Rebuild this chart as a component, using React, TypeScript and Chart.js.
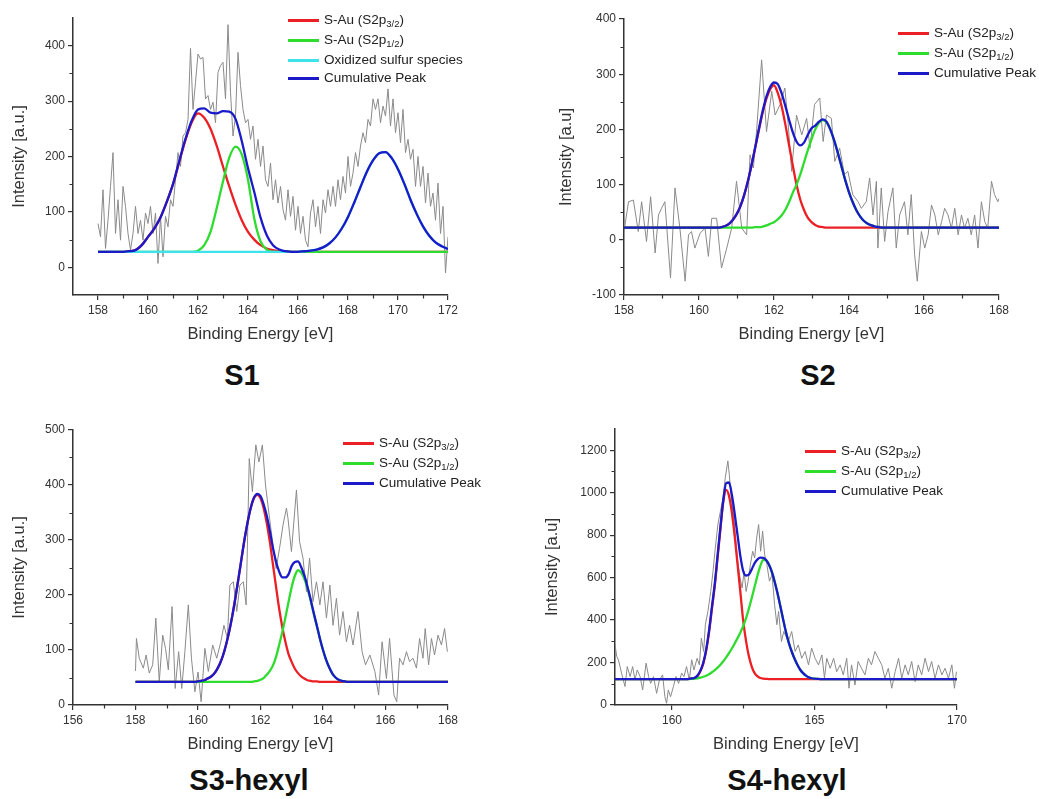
import React, { useEffect, useRef } from "react";
import { Chart, registerables } from "chart.js";

Chart.register(...registerables);

const FONT = "'Liberation Sans', Arial, Helvetica, sans-serif";
const AXIS_COLOR = "#333333";
const TEXT_COLOR = "#333333";
const RED = "#ec1f24";
const GREEN = "#2edc2e";
const CYAN = "#3ee2ea";
const BLUE = "#1a1ac8";
const RAW = "#8a8a8a";

// evenly spaced energy grid (x positions only)
function grid(start: number, step: number, n: number): number[] {
  return Array.from({ length: n }, (_, i) => Math.round((start + i * step) * 1000) / 1000);
}

// ---------------- S1 ----------------
const S1_RAW_X = grid(158, 0.1, 141);
const S1_RAW_Y = [
  79, 55, 140, 34, 85, 146, 207, 61, 122, 49,
  146, 110, 61, 31, 61, 110, 61, 85, 49, 98,
  79, 110, 61, 98, 7, 92, 19, 92, 73, 122,
  110, 158, 207, 182, 237, 243, 267, 395, 285, 334,
  385, 376, 379, 304, 310, 285, 298, 261, 352, 364,
  370, 304, 438, 316, 237, 273, 388, 328, 285, 261,
  267, 231, 255, 195, 231, 182, 219, 158, 146, 188,
  122, 158, 116, 146, 104, 85, 140, 92, 128, 67,
  110, 61, 92, 49, 37, 98, 122, 73, 110, 61,
  122, 98, 140, 110, 146, 110, 158, 122, 164, 134,
  200, 146, 170, 207, 182, 219, 243, 225, 267, 255,
  304, 285, 304, 261, 291, 273, 322, 255, 304, 243,
  279, 225, 285, 207, 231, 195, 213, 146, 200, 146,
  182, 116, 170, 110, 134, 85, 152, 61, 110, -10,
  55,
];
const S1_FIT_X = grid(158, 0.25, 57);
const S1_RED = [
  28, 28, 28, 28, 28, 29, 31, 40, 55, 70, 90, 118, 150, 190, 230, 262,
  278, 270, 250, 219, 182, 146, 113, 85, 64, 50, 40, 34, 31, 29, 29, 28,
  28, 28, 28, 28, 28, 28, 28, 28, 28, 28, 28, 28, 28, 28, 28, 28, 28, 28,
  28, 28, 28, 28, 28, 28, 28,
];
const S1_GREEN = [
  28, 28, 28, 28, 28, 28, 28, 28, 28, 28, 28, 28, 28, 28, 28, 28,
  30, 40, 64, 107, 155, 198, 218, 204, 158, 88, 47, 32, 28, 28, 28, 28,
  28, 28, 28, 28, 28, 28, 28, 28, 28, 28, 28, 28, 28, 28, 28, 28, 28, 28,
  28, 28, 28, 28, 28, 28, 28,
];
const S1_CYAN = [
  28, 28, 28, 28, 28, 28, 28, 28, 28, 28, 28, 28, 28, 28, 28, 28,
  28, 28, 28, 28, 28, 28, 28, 28, 28, 28, 28, 28, 28, 28, 28, 28,
  28, 29, 30, 32, 36, 43, 54, 70, 91, 117, 145, 172, 193, 206, 208, 197,
  177, 151, 122, 96, 74, 57, 45, 38, 33,
];
const S1_BLUE = [
  28, 28, 28, 28, 28, 29, 31, 40, 55, 70, 90, 118, 150, 192, 232, 265,
  285, 287, 279, 278, 282, 281, 268, 228, 179, 136, 90, 58, 40, 32, 29, 28,
  28, 29, 30, 32, 36, 43, 54, 70, 91, 117, 145, 172, 193, 206, 208, 197,
  177, 151, 122, 96, 74, 57, 45, 38, 33,
];
const S1_X_TICKS = [158, 160, 162, 164, 166, 168, 170, 172];
const S1_X_MINOR = [159, 161, 163, 165, 167, 169, 171];
const S1_Y_TICKS = [0, 100, 200, 300, 400];
const S1_Y_MINOR = [50, 150, 250, 350];

// ---------------- S2 ----------------
const S2_RAW_X = [
  158.0, 158.12, 158.25, 158.38, 158.47, 158.6, 158.71, 158.83, 158.92, 159.0,
  159.09, 159.24, 159.36, 159.49, 159.63, 159.72, 159.8, 159.89, 160.03, 160.16,
  160.25, 160.34, 160.47, 160.6, 160.74, 160.87, 161.0, 161.14, 161.27, 161.36,
  161.45, 161.54, 161.67, 161.8, 161.94, 162.03, 162.16, 162.29, 162.38, 162.47,
  162.6, 162.74, 162.87, 162.96, 163.08, 163.22, 163.31, 163.4, 163.53, 163.62,
  163.75, 163.88, 163.97, 164.1, 164.24, 164.33, 164.46, 164.55, 164.64, 164.73,
  164.77, 164.86, 164.95, 165.04, 165.17, 165.26, 165.35, 165.48, 165.57, 165.66,
  165.75, 165.82, 165.93, 166.02, 166.11, 166.2, 166.29, 166.38, 166.47, 166.55,
  166.64, 166.73, 166.82, 166.91, 167.0, 167.08, 167.17, 167.26, 167.35, 167.44,
  167.53, 167.62, 167.7, 167.8, 167.88, 167.97, 168.0,
];
const S2_RAW_Y = [
  15, 69, 72, 15, 69, -3, 78, -24, 45, 57,
  69, -69, 94, 21, -75, 9, 15, -15, 12, 21,
  -30, 39, 39, -51, -15, 21, 106, 21, 9, 154,
  130, 202, 326, 196, 269, 226, 245, 275, 208, 124,
  226, 190, 220, 166, 245, 257, 178, 226, 220, 142,
  166, 118, 124, 82, 69, 57, 69, 112, 45, 106,
  -15, 94, -3, 51, 94, -15, 45, 69, 9, 82,
  -27, -75, 15, -15, 9, 63, 45, 9, 33, 57,
  45, 21, 57, 9, 45, 21, 39, 9, 45, -15,
  69, 33, 21, 106, 82, 69, 75,
];
const S2_FIT_X = [158, ...grid(160.4, 0.1, 47), 168];
const S2_RED = [
  22,
  22, 22, 23, 25, 29, 36, 46, 60, 80, 105,
  135, 167, 200, 231, 256, 273, 280, 266, 243, 210,
  172, 135, 100, 73, 54, 40, 32, 27, 24, 23,
  22, 22, 22, 22, 22, 22, 22, 22, 22, 22,
  22, 22, 22, 22, 22, 22, 22,
  22,
];
const S2_GREEN = [
  22,
  22, 22, 22, 22, 22, 22, 22, 22, 22, 22,
  22, 23, 23, 24, 26, 29, 32, 37, 44, 54,
  68, 85, 100, 118, 140, 162, 182, 200, 212, 217,
  213, 200, 181, 158, 133, 108, 86, 68, 53, 42,
  34, 29, 26, 24, 23, 22, 22,
  22,
];
const S2_BLUE = [
  22,
  22, 22, 23, 25, 29, 36, 46, 60, 80, 105,
  135, 168, 202, 234, 260, 277, 285, 282, 266, 243,
  218, 195, 178, 171, 176, 190, 202, 207, 214, 218,
  214, 200, 181, 158, 133, 108, 86, 68, 53, 42,
  34, 29, 26, 24, 23, 22, 22,
  22,
];
const S2_X_TICKS = [158, 160, 162, 164, 166, 168];
const S2_X_MINOR = [159, 161, 163, 165, 167];
const S2_Y_TICKS = [-100, 0, 100, 200, 300, 400];
const S2_Y_MINOR = [-50, 50, 150, 250, 350];

// ---------------- S3-hexyl ----------------
const S3_RAW_X = [
  158.0, 158.03, 158.12, 158.25, 158.34, 158.44, 158.55, 158.65, 158.76, 158.87,
  158.96, 159.05, 159.17, 159.27, 159.38, 159.48, 159.58, 159.69, 159.79, 159.9,
  160.0, 160.1, 160.22, 160.33, 160.47, 160.6, 160.73, 160.83, 160.94, 161.02,
  161.13, 161.24, 161.34, 161.45, 161.54, 161.64, 161.74, 161.85, 161.95, 162.06,
  162.16, 162.29, 162.4, 162.5, 162.61, 162.72, 162.83, 162.88, 162.99, 163.15,
  163.25, 163.36, 163.47, 163.57, 163.68, 163.79, 163.9, 164.0, 164.11, 164.22,
  164.32, 164.43, 164.53, 164.64, 164.75, 164.85, 164.96, 165.12, 165.25, 165.36,
  165.5, 165.66, 165.78, 165.89, 166.03, 166.13, 166.27, 166.36, 166.45, 166.56,
  166.67, 166.77, 166.88, 166.99, 167.09, 167.2, 167.27, 167.38, 167.47, 167.57,
  167.68, 167.79, 167.89, 167.98,
];
const S3_RAW_Y = [
  62, 121, 85, 67, 91, 58, 73, 158, 42, 127,
  103, 64, 179, 30, 97, 30, 97, 182, 85, 24,
  60, 6, 103, 61, 109, 85, 115, 145, 121, 218,
  224, 170, 218, 224, 182, 448, 388, 473, 442, 473,
  400, 339, 291, 248, 285, 327, 358, 339, 279, 391,
  297, 267, 206, 267, 188, 224, 182, 224, 158, 218,
  145, 194, 127, 170, 115, 145, 109, 170, 97, 73,
  91, 61, 18, 115, 48, 121, 18, 6, 85, 73,
  97, 79, 85, 67, 121, 85, 139, 73, 121, 91,
  127, 109, 139, 97,
];
const S3_FIT_X = [158, ...grid(159.8, 0.1, 53), 168];
const S3_RED = [
  42,
  42, 42, 43, 44, 45, 48, 51, 56, 64, 75,
  90, 110, 134, 163, 196, 232, 269, 305, 336, 361,
  377, 382, 376, 358, 331, 296, 255, 214, 174, 141,
  114, 92, 78, 66, 58, 52, 48, 45, 44, 43,
  43, 42, 42, 42, 42, 42, 42, 42, 42, 42,
  42, 42, 42,
  42,
];
const S3_GREEN = [
  42,
  42, 42, 42, 42, 42, 42, 42, 42, 42, 42,
  42, 42, 42, 42, 42, 42, 42, 42, 42, 42,
  43, 44, 46, 49, 55, 62, 72, 88, 110, 133,
  160, 188, 215, 235, 245, 241, 230, 213, 191, 167,
  144, 121, 100, 82, 68, 57, 50, 46, 44, 43,
  42, 42, 42,
  42,
];
const S3_BLUE = [
  42,
  42, 42, 43, 44, 45, 48, 51, 56, 64, 75,
  90, 110, 134, 163, 196, 232, 269, 305, 336, 361,
  378, 384, 380, 365, 344, 316, 285, 260, 242, 232,
  232, 238, 253, 260, 261, 251, 236, 216, 193, 168,
  145, 121, 100, 82, 68, 57, 50, 46, 44, 43,
  42, 42, 42,
  42,
];
const S3_X_TICKS = [156, 158, 160, 162, 164, 166, 168];
const S3_X_MINOR = [157, 159, 161, 163, 165, 167];
const S3_Y_TICKS = [0, 100, 200, 300, 400, 500];
const S3_Y_MINOR = [50, 150, 250, 350, 450];

// ---------------- S4-hexyl ----------------
const S4_RAW_X = [
  158.0, 158.06, 158.12, 158.23, 158.35, 158.43, 158.53, 158.62, 158.7, 158.78,
  158.88, 158.97, 159.09, 159.18, 159.25, 159.35, 159.46, 159.56, 159.67, 159.75,
  159.81, 159.87, 159.95, 160.05, 160.14, 160.23, 160.34, 160.42, 160.51, 160.61,
  160.69, 160.77, 160.88, 160.96, 161.03, 161.11, 161.17, 161.26, 161.36, 161.44,
  161.52, 161.61, 161.7, 161.79, 161.87, 161.96, 162.01, 162.08, 162.18, 162.25,
  162.32, 162.39, 162.46, 162.53, 162.6, 162.67, 162.75, 162.83, 162.9, 162.97,
  163.04, 163.11, 163.18, 163.25, 163.33, 163.42, 163.51, 163.6, 163.68, 163.74,
  163.84, 163.92, 164.08, 164.2, 164.32, 164.43, 164.55, 164.67, 164.79, 164.9,
  165.02, 165.14, 165.26, 165.35, 165.43, 165.55, 165.67, 165.78, 165.9, 166.01,
  166.13, 166.21, 166.3, 166.42, 166.53, 166.65, 166.77, 166.89, 167.0, 167.12,
  167.24, 167.36, 167.47, 167.59, 167.71, 167.83, 167.95, 168.06, 168.18, 168.29,
  168.41, 168.53, 168.64, 168.76, 168.88, 169.0, 169.11, 169.23, 169.35, 169.47,
  169.58, 169.7, 169.82, 169.91, 169.98,
];
const S4_RAW_Y = [
  283, 230, 213, 150, 87, 181, 134, 181, 118, 165,
  134, 71, 197, 134, 102, 134, 55, 118, 142, 39,
  8, 71, 39, 87, 134, 102, 150, 134, 181, 118,
  213, 165, 220, 189, 315, 252, 378, 441, 535, 630,
  740, 850, 913, 976, 1071, 1150, 1087, 976, 866, 756,
  661, 598, 551, 630, 535, 583, 661, 724, 693, 787,
  850, 724, 819, 709, 661, 583, 614, 472, 378, 441,
  299, 346, 299, 346, 252, 283, 220, 252, 189, 268,
  220, 189, 236, 126, 220, 173, 220, 157, 189, 142,
  220, 79, 189, 94, 205, 173, 142, 220, 189, 252,
  220, 189, 126, 173, 79, 157, 220, 126, 189, 142,
  205, 110, 189, 142, 220, 157, 205, 126, 189, 142,
  173, 126, 189, 79, 157,
];
const S4_FIT_X = [158, ...grid(160.5, 0.1, 51), 170];
const S4_RED = [
  122,
  122, 123, 125, 128, 137, 160, 196, 256, 343, 452,
  560, 695, 830, 958, 1013, 985, 908, 795, 663, 530,
  395, 300, 228, 180, 150, 135, 127, 124, 123, 122,
  122, 122, 122, 122, 122, 122, 122, 122, 122, 122,
  122, 122, 122, 122, 122, 122, 122, 122, 122, 122,
  122,
  122,
];
const S4_GREEN = [
  122,
  122, 122, 123, 124, 126, 129, 133, 138, 145, 154,
  164, 176, 190, 206, 224, 244, 266, 290, 315, 342,
  372, 410, 455, 505, 558, 610, 655, 683, 682, 662,
  628, 582, 527, 466, 403, 343, 292, 252, 218, 190,
  166, 150, 138, 130, 126, 124, 123, 122, 122, 122,
  122,
  122,
];
const S4_BLUE = [
  122,
  122, 123, 125, 128, 140, 163, 200, 262, 350, 462,
  570, 705, 840, 965, 1045, 1048, 990, 900, 800, 700,
  630, 610, 615, 640, 668, 686, 694, 693, 683, 662,
  628, 582, 527, 466, 403, 343, 292, 252, 218, 190,
  166, 150, 138, 130, 126, 124, 123, 122, 122, 122,
  122,
  122,
];
const S4_X_TICKS = [160, 165, 170];
const S4_X_MINOR = [162.5, 167.5];
const S4_Y_TICKS = [0, 200, 400, 600, 800, 1000, 1200];
const S4_Y_MINOR = [100, 300, 500, 700, 900, 1100];

// ---------------- legends / titles ----------------
type LegendItem = { color: string; text: string; sub?: string; tail?: string };
const LEG_RED: LegendItem = { color: RED, text: "S-Au (S2p", sub: "3/2", tail: ")" };
const LEG_GREEN: LegendItem = { color: GREEN, text: "S-Au (S2p", sub: "1/2", tail: ")" };
const LEG_CYAN: LegendItem = { color: CYAN, text: "Oxidized sulfur species" };
const LEG_BLUE: LegendItem = { color: BLUE, text: "Cumulative Peak" };

type Series = { color: string; x: number[]; y: number[]; width: number; order: number; smooth: boolean };

type PanelSpec = {
  left: number; top: number; width: number; height: number;
  padTop: number; padRight: number; yAxisWidth: number; yTitlePad: number;
  xMin: number; xMax: number; yMin: number; yMax: number;
  xTicks: number[]; xMinor: number[]; yTicks: number[]; yMinor: number[];
  yTitle: string;
  series: Series[];
};

function pts(xs: number[], ys: number[]) {
  const n = Math.min(xs.length, ys.length);
  return Array.from({ length: n }, (_, i) => ({ x: xs[i], y: ys[i] }));
}

function makeSeries(rawX: number[], rawY: number[], fitX: number[], red: number[], green: number[], blue: number[], cyan?: number[]): Series[] {
  const s: Series[] = [
    { color: RAW, x: rawX, y: rawY, width: 1, order: 5, smooth: false },
    { color: RED, x: fitX, y: red, width: 2.3, order: 4, smooth: true },
    { color: GREEN, x: fitX, y: green, width: 2.3, order: 3, smooth: true },
  ];
  if (cyan) s.push({ color: CYAN, x: fitX, y: cyan, width: 2.3, order: 2, smooth: true });
  s.push({ color: BLUE, x: fitX, y: blue, width: 2.3, order: 1, smooth: true });
  return s;
}

const PANELS: PanelSpec[] = [
  {
    left: 0, top: 0, width: 468, height: 345, padTop: 18, padRight: 20, yAxisWidth: 73, yTitlePad: 10,
    xMin: 157, xMax: 172, yMin: -50, yMax: 450,
    xTicks: S1_X_TICKS, xMinor: S1_X_MINOR, yTicks: S1_Y_TICKS, yMinor: S1_Y_MINOR,
    yTitle: "Intensity [a.u.]",
    series: makeSeries(S1_RAW_X, S1_RAW_Y, S1_FIT_X, S1_RED, S1_GREEN, S1_BLUE, S1_CYAN),
  },
  {
    left: 540, top: 0, width: 479, height: 345, padTop: 19, padRight: 20, yAxisWidth: 84, yTitlePad: 17,
    xMin: 158, xMax: 168, yMin: -100, yMax: 400,
    xTicks: S2_X_TICKS, xMinor: S2_X_MINOR, yTicks: S2_Y_TICKS, yMinor: S2_Y_MINOR,
    yTitle: "Intensity [a.u]",
    series: makeSeries(S2_RAW_X, S2_RAW_Y, S2_FIT_X, S2_RED, S2_GREEN, S2_BLUE),
  },
  {
    left: 0, top: 400, width: 468, height: 355, padTop: 30, padRight: 20, yAxisWidth: 73, yTitlePad: 10,
    xMin: 156, xMax: 168, yMin: 0, yMax: 500,
    xTicks: S3_X_TICKS, xMinor: S3_X_MINOR, yTicks: S3_Y_TICKS, yMinor: S3_Y_MINOR,
    yTitle: "Intensity [a.u.]",
    series: makeSeries(S3_RAW_X, S3_RAW_Y, S3_FIT_X, S3_RED, S3_GREEN, S3_BLUE),
  },
  {
    left: 540, top: 400, width: 437, height: 355, padTop: 29, padRight: 20, yAxisWidth: 75, yTitlePad: 3,
    xMin: 158, xMax: 170, yMin: 0, yMax: 1300,
    xTicks: S4_X_TICKS, xMinor: S4_X_MINOR, yTicks: S4_Y_TICKS, yMinor: S4_Y_MINOR,
    yTitle: "Intensity [a.u]",
    series: makeSeries(S4_RAW_X, S4_RAW_Y, S4_FIT_X, S4_RED, S4_GREEN, S4_BLUE),
  },
];

const TITLES = [
  { text: "S1", x: 242, y: 375 },
  { text: "S2", x: 818, y: 375 },
  { text: "S3-hexyl", x: 249, y: 780 },
  { text: "S4-hexyl", x: 787, y: 780 },
];

const LEGENDS = [
  { x: 288, rows: [20, 40, 60, 78], items: [LEG_RED, LEG_GREEN, LEG_CYAN, LEG_BLUE] },
  { x: 898, rows: [33, 53, 73], items: [LEG_RED, LEG_GREEN, LEG_BLUE] },
  { x: 343, rows: [443, 463, 483], items: [LEG_RED, LEG_GREEN, LEG_BLUE] },
  { x: 805, rows: [451, 471, 491], items: [LEG_RED, LEG_GREEN, LEG_BLUE] },
];

function minorTickPlugin(xMinor: number[], yMinor: number[]) {
  return {
    id: "minorTicks",
    afterDraw(chart: any) {
      const { ctx, chartArea, scales } = chart;
      const xs = scales.x;
      const ys = scales.y;
      ctx.save();
      ctx.strokeStyle = AXIS_COLOR;
      ctx.lineWidth = 1.2;
      ctx.beginPath();
      for (const v of xMinor) {
        const px = Math.round(xs.getPixelForValue(v)) + 0.5;
        ctx.moveTo(px, chartArea.bottom);
        ctx.lineTo(px, chartArea.bottom + 3.5);
      }
      for (const v of yMinor) {
        const py = Math.round(ys.getPixelForValue(v)) + 0.5;
        ctx.moveTo(chartArea.left - 3.5, py);
        ctx.lineTo(chartArea.left, py);
      }
      ctx.stroke();
      ctx.restore();
    },
  };
}

function Panel({ spec }: { spec: PanelSpec }) {
  const ref = useRef<HTMLCanvasElement | null>(null);
  useEffect(() => {
    if (!ref.current) return;
    const datasets = spec.series.map((s) => ({
      data: pts(s.x, s.y),
      showLine: true,
      borderColor: s.color,
      backgroundColor: s.color,
      borderWidth: s.width,
      pointRadius: 0,
      pointHoverRadius: 0,
      fill: false,
      order: s.order,
      tension: 0,
      cubicInterpolationMode: s.smooth ? "monotone" : "default",
    }));
    const tickFont = { family: FONT, size: 12 };
    const titleFont = { family: FONT, size: 16.5 };
    const chart = new Chart(ref.current, {
      type: "scatter",
      data: { datasets } as any,
      options: {
        animation: false,
        responsive: false,
        maintainAspectRatio: false,
        devicePixelRatio: 1,
        events: [],
        layout: { autoPadding: false, padding: { top: spec.padTop, right: spec.padRight, left: 0, bottom: 0 } },
        plugins: { legend: { display: false }, tooltip: { enabled: false }, title: { display: false } },
        scales: {
          x: {
            type: "linear",
            min: spec.xMin,
            max: spec.xMax,
            afterBuildTicks: (axis: any) => {
              axis.ticks = spec.xTicks.map((v) => ({ value: v }));
            },
            afterFit: (axis: any) => {
              axis.height = 50;
            },
            ticks: {
              font: tickFont,
              color: TEXT_COLOR,
              padding: 3,
              maxRotation: 0,
              autoSkip: false,
              callback: (v: any) => String(v),
            },
            grid: { display: true, drawOnChartArea: false, drawTicks: true, tickLength: 5, color: AXIS_COLOR, lineWidth: 1.2 },
            border: { display: true, color: AXIS_COLOR, width: 1.5 },
            title: { display: true, text: "Binding Energy [eV]", font: titleFont, color: TEXT_COLOR, padding: { top: 0, bottom: 1 } },
          },
          y: {
            type: "linear",
            min: spec.yMin,
            max: spec.yMax,
            afterBuildTicks: (axis: any) => {
              axis.ticks = spec.yTicks.map((v) => ({ value: v }));
            },
            afterFit: (axis: any) => {
              axis.width = spec.yAxisWidth;
            },
            ticks: {
              font: tickFont,
              color: TEXT_COLOR,
              padding: 3,
              autoSkip: false,
              callback: (v: any) => String(v),
            },
            grid: { display: true, drawOnChartArea: false, drawTicks: true, tickLength: 5, color: AXIS_COLOR, lineWidth: 1.2 },
            border: { display: true, color: AXIS_COLOR, width: 1.5 },
            title: { display: true, text: spec.yTitle, font: titleFont, color: TEXT_COLOR, padding: { top: spec.yTitlePad, bottom: 0 } },
          },
        },
      } as any,
      plugins: [minorTickPlugin(spec.xMinor, spec.yMinor)],
    });
    return () => chart.destroy();
  }, [spec]);
  return (
    <canvas
      ref={ref}
      width={spec.width}
      height={spec.height}
      style={{ position: "absolute", left: spec.left, top: spec.top, width: spec.width, height: spec.height }}
    />
  );
}

function Legend({ x, rows, items }: { x: number; rows: number[]; items: LegendItem[] }) {
  return (
    <>
      {items.map((it, i) => (
        <div key={i}>
          <div
            style={{
              position: "absolute",
              left: x,
              top: rows[i] - 1,
              width: 31,
              height: 3,
              background: it.color,
            }}
          />
          <div
            style={{
              position: "absolute",
              left: x + 36,
              top: rows[i] - 10,
              height: 20,
              lineHeight: "20px",
              whiteSpace: "nowrap",
              fontFamily: FONT,
              fontSize: 13.5,
              color: "#222",
            }}
          >
            {it.text}
            {it.sub ? (
              <sub style={{ fontSize: "70%", verticalAlign: "baseline", position: "relative", top: 3 }}>{it.sub}</sub>
            ) : null}
            {it.tail || ""}
          </div>
        </div>
      ))}
    </>
  );
}

export default function App() {
  return (
    <div style={{ position: "absolute", left: 0, top: 0, width: 1039, height: 799, background: "#ffffff", overflow: "hidden" }}>
      {PANELS.map((p, i) => (
        <Panel key={i} spec={p} />
      ))}
      {LEGENDS.map((l, i) => (
        <Legend key={i} x={l.x} rows={l.rows} items={l.items} />
      ))}
      {TITLES.map((t, i) => (
        <div
          key={i}
          style={{
            position: "absolute",
            left: t.x,
            top: t.y,
            transform: "translate(-50%, -50%)",
            fontFamily: FONT,
            fontWeight: "bold",
            fontSize: 29,
            lineHeight: 1,
            color: "#111",
            whiteSpace: "nowrap",
          }}
        >
          {t.text}
        </div>
      ))}
    </div>
  );
}
